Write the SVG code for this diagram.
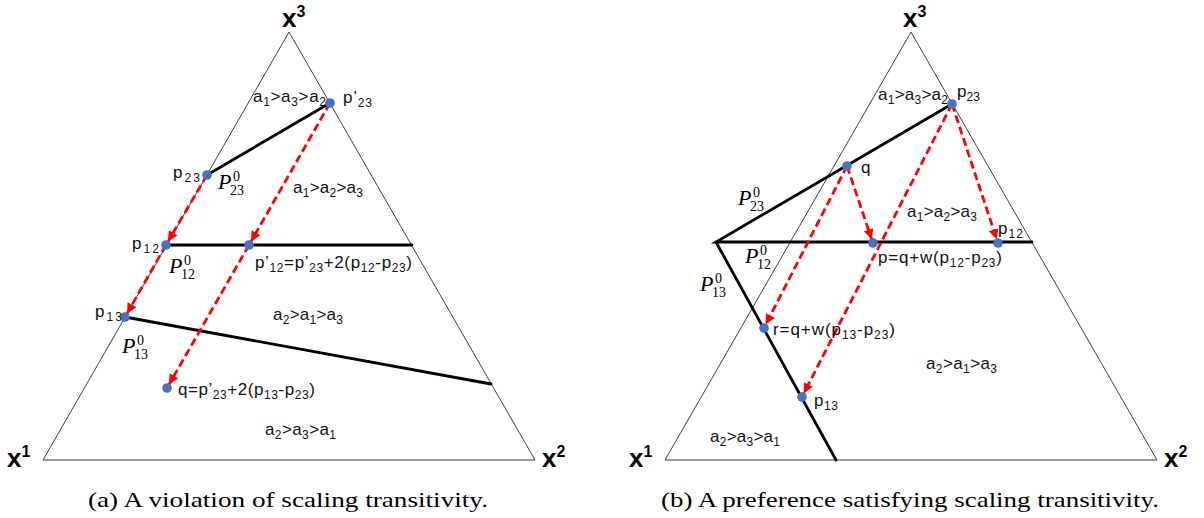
<svg xmlns="http://www.w3.org/2000/svg" width="1204" height="518" viewBox="0 0 1204 518">
<style>
.tri{fill:none;stroke:#404040;stroke-width:1}
.bd{fill:none;stroke:#000;stroke-width:2.8;stroke-linecap:round}
.ar{fill:none;stroke:#ff0000;stroke-width:2.8;stroke-dasharray:8 4;marker-end:url(#ah)}
.dot{fill:#4472C4}
.lb{font-family:"Liberation Sans",Arial,sans-serif;font-size:17px;fill:#111}
.s{font-size:12px}
.ax{font-family:"Liberation Sans",Arial,sans-serif;font-weight:bold;font-size:26px;fill:#000}
.axs{font-size:16px}
.pv{font-family:"Liberation Serif","Times New Roman",serif;fill:#000}
.pP{font-style:italic;font-size:22px}
.pn{font-size:14px}
.cap{font-family:"Liberation Serif","Times New Roman",serif;font-size:21px;fill:#000}
</style>
<defs>
<marker id="ah" viewBox="0 0 10 10" refX="10" refY="5" markerWidth="11" markerHeight="10" markerUnits="userSpaceOnUse" orient="auto">
<path d="M0,0 L10,5 L0,10 z" fill="#ff0000"/>
</marker>
</defs>
<rect width="1204" height="518" fill="#fff"/>

<!-- Left panel -->
<g id="triangle-a">
<polygon class="tri" points="289,32 43,460 535,460"/>
<text class="ax" x="7" y="467">x<tspan class="axs" dy="-10">1</tspan></text>
<text class="ax" x="542" y="467">x<tspan class="axs" dy="-10">2</tspan></text>
<text class="ax" x="282" y="27">x<tspan class="axs" dy="-10">3</tspan></text>
</g>
<g id="boundaries-a">
<line class="bd" x1="207" y1="175" x2="330" y2="103"/>
<line class="bd" x1="166" y1="245" x2="412" y2="245"/>
<line class="bd" x1="125" y1="317" x2="491" y2="384"/>
</g>
<g id="regions-a">
<text class="lb" x="253" y="102" textLength="73">a<tspan class="s" dy="4">1</tspan><tspan dy="-4">&gt;a</tspan><tspan class="s" dy="4">3</tspan><tspan dy="-4">&gt;a</tspan><tspan class="s" dy="4">2</tspan></text>
<text class="lb" x="293" y="193" textLength="70">a<tspan class="s" dy="4">1</tspan><tspan dy="-4">&gt;a</tspan><tspan class="s" dy="4">2</tspan><tspan dy="-4">&gt;a</tspan><tspan class="s" dy="4">3</tspan></text>
<text class="lb" x="273" y="320" textLength="70">a<tspan class="s" dy="4">2</tspan><tspan dy="-4">&gt;a</tspan><tspan class="s" dy="4">1</tspan><tspan dy="-4">&gt;a</tspan><tspan class="s" dy="4">3</tspan></text>
<text class="lb" x="265" y="435" textLength="71">a<tspan class="s" dy="4">2</tspan><tspan dy="-4">&gt;a</tspan><tspan class="s" dy="4">3</tspan><tspan dy="-4">&gt;a</tspan><tspan class="s" dy="4">1</tspan></text>
</g>
<g id="connectors-a">
<line class="ar" x1="207" y1="175" x2="168" y2="241.5"/>
<line class="ar" x1="166" y1="245" x2="127" y2="313.5"/>
<line class="ar" x1="330" y1="103" x2="251" y2="241.5"/>
<line class="ar" x1="249" y1="245" x2="169" y2="384.5"/>
</g>
<g id="a-p23p">
<circle class="dot" cx="330" cy="103" r="4.8"/>
<text class="lb" x="343" y="103" textLength="29">p’<tspan class="s" dy="4">23</tspan></text>
</g>
<g id="a-p23">
<circle class="dot" cx="207" cy="175" r="4.8"/>
<text class="lb" x="173" y="178" textLength="27">p<tspan class="s" dy="4">23</tspan></text>
<text class="pv pP" x="218" y="189">P</text>
<text class="pv pn" x="233" y="181">0</text>
<text class="pv pn" x="230" y="195">23</text>
</g>
<g id="a-p12">
<circle class="dot" cx="166" cy="245" r="4.8"/>
<text class="lb" x="132" y="249" textLength="27">p<tspan class="s" dy="4">12</tspan></text>
<text class="pv pP" x="169" y="273">P</text>
<text class="pv pn" x="184" y="265">0</text>
<text class="pv pn" x="181" y="279">12</text>
</g>
<g id="a-p12p">
<circle class="dot" cx="249" cy="245" r="4.8"/>
<text class="lb" x="255" y="268" textLength="157">p’<tspan class="s" dy="4">12</tspan><tspan dy="-4">=p’</tspan><tspan class="s" dy="4">23</tspan><tspan dy="-4">+2(p</tspan><tspan class="s" dy="4">12</tspan><tspan dy="-4">-p</tspan><tspan class="s" dy="4">23</tspan><tspan dy="-4">)</tspan></text>
</g>
<g id="a-p13">
<circle class="dot" cx="125" cy="317" r="4.8"/>
<text class="lb" x="95" y="317" textLength="27">p<tspan class="s" dy="4">13</tspan></text>
<text class="pv pP" x="122" y="353">P</text>
<text class="pv pn" x="137" y="345">0</text>
<text class="pv pn" x="134" y="359">13</text>
</g>
<g id="a-q">
<circle class="dot" cx="167" cy="388" r="4.8"/>
<text class="lb" x="178" y="395" textLength="137">q=p’<tspan class="s" dy="4">23</tspan><tspan dy="-4">+2(p</tspan><tspan class="s" dy="4">13</tspan><tspan dy="-4">-p</tspan><tspan class="s" dy="4">23</tspan><tspan dy="-4">)</tspan></text>
</g>
<text class="cap" x="88" y="507" textLength="400" lengthAdjust="spacingAndGlyphs">(a) A violation of scaling transitivity.</text>

<!-- Right panel -->
<g id="triangle-b">
<polygon class="tri" points="911,32 665,460 1157,460"/>
<text class="ax" x="629" y="467">x<tspan class="axs" dy="-10">1</tspan></text>
<text class="ax" x="1164" y="467">x<tspan class="axs" dy="-10">2</tspan></text>
<text class="ax" x="903" y="27">x<tspan class="axs" dy="-10">3</tspan></text>
</g>
<g id="boundaries-b">
<polyline class="bd" points="952,104 716,242 1032,242"/>
<line class="bd" x1="716" y1="242" x2="836" y2="460"/>
<text class="pv pP" x="738" y="205">P</text>
<text class="pv pn" x="753" y="197">0</text>
<text class="pv pn" x="750" y="211">23</text>
<text class="pv pP" x="745" y="263">P</text>
<text class="pv pn" x="760" y="255">0</text>
<text class="pv pn" x="757" y="269">12</text>
<text class="pv pP" x="700" y="291">P</text>
<text class="pv pn" x="715" y="283">0</text>
<text class="pv pn" x="712" y="297">13</text>
</g>
<g id="regions-b">
<text class="lb" x="878" y="100" textLength="70">a<tspan class="s" dy="4">1</tspan><tspan dy="-4">&gt;a</tspan><tspan class="s" dy="4">3</tspan><tspan dy="-4">&gt;a</tspan><tspan class="s" dy="4">2</tspan></text>
<text class="lb" x="907" y="217" textLength="70">a<tspan class="s" dy="4">1</tspan><tspan dy="-4">&gt;a</tspan><tspan class="s" dy="4">2</tspan><tspan dy="-4">&gt;a</tspan><tspan class="s" dy="4">3</tspan></text>
<text class="lb" x="926" y="369" textLength="71">a<tspan class="s" dy="4">2</tspan><tspan dy="-4">&gt;a</tspan><tspan class="s" dy="4">1</tspan><tspan dy="-4">&gt;a</tspan><tspan class="s" dy="4">3</tspan></text>
<text class="lb" x="710" y="442" textLength="70">a<tspan class="s" dy="4">2</tspan><tspan dy="-4">&gt;a</tspan><tspan class="s" dy="4">3</tspan><tspan dy="-4">&gt;a</tspan><tspan class="s" dy="4">1</tspan></text>
</g>
<g id="connectors-b">
<line class="ar" x1="847" y1="166" x2="871.7" y2="239.2"/>
<line class="ar" x1="847" y1="166" x2="765.8" y2="324.4"/>
<line class="ar" x1="952" y1="104" x2="996.7" y2="239.2"/>
<line class="ar" x1="952" y1="104" x2="803.8" y2="393.4"/>
</g>
<g id="b-p23">
<circle class="dot" cx="952" cy="104" r="4.8"/>
<text class="lb" x="957" y="97" textLength="23">p<tspan class="s" dy="4">23</tspan></text>
</g>
<g id="b-q">
<circle class="dot" cx="847" cy="166" r="4.8"/>
<text class="lb" x="861" y="173">q</text>
</g>
<g id="b-p">
<circle class="dot" cx="873" cy="243" r="4.8"/>
<text class="lb" x="878" y="263" textLength="124">p=q+w(p<tspan class="s" dy="4">12</tspan><tspan dy="-4">-p</tspan><tspan class="s" dy="4">23</tspan><tspan dy="-4">)</tspan></text>
</g>
<g id="b-p12">
<circle class="dot" cx="998" cy="243" r="4.8"/>
<text class="lb" x="998" y="234" textLength="25">p<tspan class="s" dy="4">12</tspan></text>
</g>
<g id="b-r">
<circle class="dot" cx="764" cy="328" r="4.8"/>
<text class="lb" x="773" y="335" textLength="122">r=q+w(p<tspan class="s" dy="4">13</tspan><tspan dy="-4">-p</tspan><tspan class="s" dy="4">23</tspan><tspan dy="-4">)</tspan></text>
</g>
<g id="b-p13">
<circle class="dot" cx="802" cy="397" r="4.8"/>
<text class="lb" x="814" y="406" textLength="24">p<tspan class="s" dy="4">13</tspan></text>
</g>
<text class="cap" x="661" y="507" textLength="498" lengthAdjust="spacingAndGlyphs">(b) A preference satisfying scaling transitivity.</text>
</svg>
